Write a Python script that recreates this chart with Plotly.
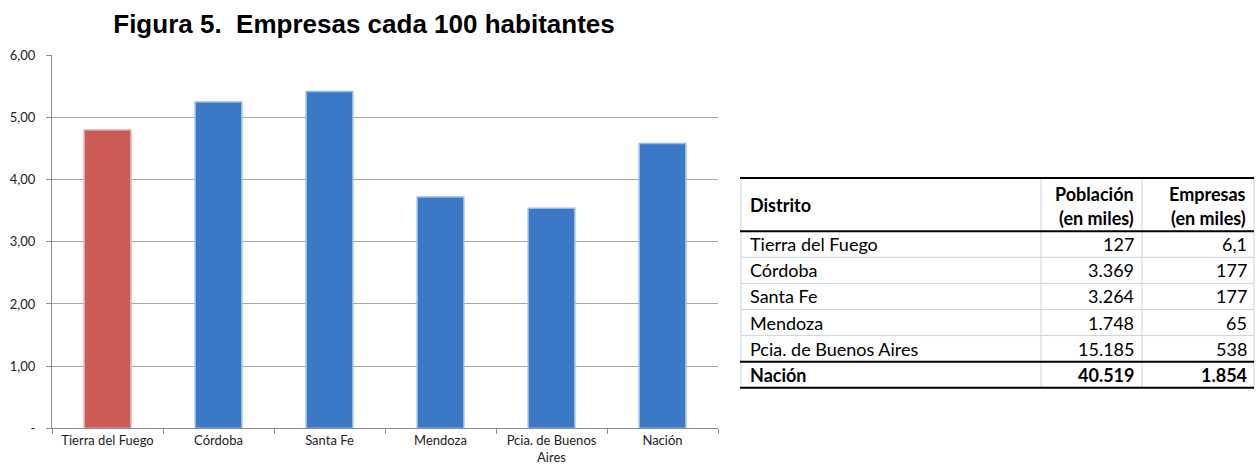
import plotly.graph_objects as go

# ---- data ----
districts = ["Tierra del Fuego", "Córdoba", "Santa Fe", "Mendoza",
             "Pcia. de Buenos<br>Aires", "Nación"]
companies_per_100 = [4.80, 5.25, 5.42, 3.72, 3.54, 4.58]

y_tick_values = [0, 1, 2, 3, 4, 5, 6]
y_tick_labels = ["-", "1,00", "2,00", "3,00", "4,00", "5,00", "6,00"]

table_districts = ["Tierra del Fuego", "Córdoba", "Santa Fe", "Mendoza",
                   "Pcia. de Buenos Aires", "Nación"]
table_population = ["127", "3.369", "3.264", "1.748", "15.185", "40.519"]
table_companies = ["6,1", "177", "177", "65", "538", "1.854"]
table_header_district = "Distrito"
table_header_numeric = [("Población", "(en miles)"), ("Empresas", "(en miles)")]

# ---- styling ----
W, H = 1257, 474
bar_fill = ["#cc5a55", "#3b79c7", "#3b79c7", "#3b79c7", "#3b79c7", "#3b79c7"]
bar_edge = ["#e0a9a7", "#93bde9", "#93bde9", "#93bde9", "#93bde9", "#93bde9"]
grid_col = "#a6a6a6"
axis_col = "#8c8c8c"
rule_col = "#c9d5e3"
body_font = "Lato, 'Open Sans', sans-serif"
table_size = 18

# plot area in pixels
PX_L, PX_R, PX_T, PX_B = 52, 718, 49, 435
# table frame in pixels
T_L, C1, C2, T_R = 741, 1041, 1142, 1254
T_TOP, HDR_H, ROW_H = 176, 55, 27
n_rows = len(table_districts)
T_BOT = T_TOP + HDR_H + n_rows * ROW_H


def fx(px):
    return px / W


def fy(py):
    return 1 - py / H


fig = go.Figure()

fig.add_trace(go.Bar(
    x=districts,
    y=companies_per_100,
    marker=dict(color=bar_fill, line=dict(color=bar_edge, width=1.5)),
    hoverinfo="x+y",
    showlegend=False,
))

shapes = []
annotations = []


def hline(py, color, width, x0=T_L, x1=T_R):
    shapes.append(dict(type="line", xref="paper", yref="paper",
                       x0=fx(x0), x1=fx(x1), y0=fy(py), y1=fy(py),
                       line=dict(color=color, width=width)))


def vline(px, color, width):
    shapes.append(dict(type="line", xref="paper", yref="paper",
                       x0=fx(px), x1=fx(px), y0=fy(T_TOP), y1=fy(T_BOT),
                       line=dict(color=color, width=width)))


def cell_text(text, px, py, anchor, bold=False):
    annotations.append(dict(
        xref="paper", yref="paper", x=fx(px), y=fy(py),
        xanchor=anchor, yanchor="middle", showarrow=False,
        text=("<b>%s</b>" % text) if bold else text,
        font=dict(family=body_font, size=table_size, color="black"),
    ))


# thin grid of the table
for px in [T_L, C1, C2, T_R]:
    vline(px, rule_col, 1)
for i in range(1, n_rows - 1):
    hline(T_TOP + HDR_H + i * ROW_H, rule_col, 1)

# header
cell_text(table_header_district, T_L + 7, T_TOP + HDR_H / 2, "left", bold=True)
for (line1, line2), right in zip(table_header_numeric, [C1 + (C2 - C1), T_R]):
    cell_text(line1, right - 6, T_TOP + 16, "right", bold=True)
    cell_text(line2, right - 6, T_TOP + 41, "right", bold=True)

# body rows; the last one (national total) in bold
for i, (d, p, c) in enumerate(zip(table_districts, table_population, table_companies)):
    yc = T_TOP + HDR_H + (i + 0.5) * ROW_H
    bold = i == n_rows - 1
    cell_text(d, T_L + 7, yc, "left", bold)
    cell_text(p, C2 - 6, yc, "right", bold)
    cell_text(c, T_R - 5, yc, "right", bold)

# heavy rules
for py in [T_TOP, T_TOP + HDR_H, T_TOP + HDR_H + (n_rows - 1) * ROW_H, T_BOT]:
    hline(py, "black", 2, x0=T_L - 1)

fig.update_layout(
    width=W, height=H,
    margin=dict(l=0, r=0, t=0, b=0),
    paper_bgcolor="white",
    plot_bgcolor="white",
    bargap=0.58,
    font=dict(family=body_font, size=12, color="#222"),
    shapes=shapes,
    annotations=annotations,
    title=dict(
        text="<b>Figura 5.  Empresas cada 100 habitantes</b>",
        x=fx(364), xanchor="center",
        y=fy(24), yanchor="middle",
        font=dict(family="'Liberation Sans', Arial, sans-serif", size=26, color="black"),
    ),
    xaxis=dict(
        domain=[fx(PX_L), fx(PX_R)],
        type="category",
        tickson="boundaries",
        ticks="outside", ticklen=5, tickcolor=axis_col,
        showline=True, linecolor=axis_col, linewidth=1,
        showgrid=False,
        tickfont=dict(family=body_font, size=13, color="#222"),
    ),
    yaxis=dict(
        domain=[fy(PX_B), fy(PX_T)],
        range=[0, 6],
        tickvals=y_tick_values,
        ticktext=y_tick_labels,
        ticks="outside", ticklen=5, tickcolor=axis_col,
        ticklabelstandoff=8,
        showline=True, linecolor=axis_col, linewidth=1,
        showgrid=True, gridcolor=grid_col, gridwidth=1,
        zeroline=False,
        tickfont=dict(family=body_font, size=13, color="#222"),
    ),
)

fig.write_html("out.html")
